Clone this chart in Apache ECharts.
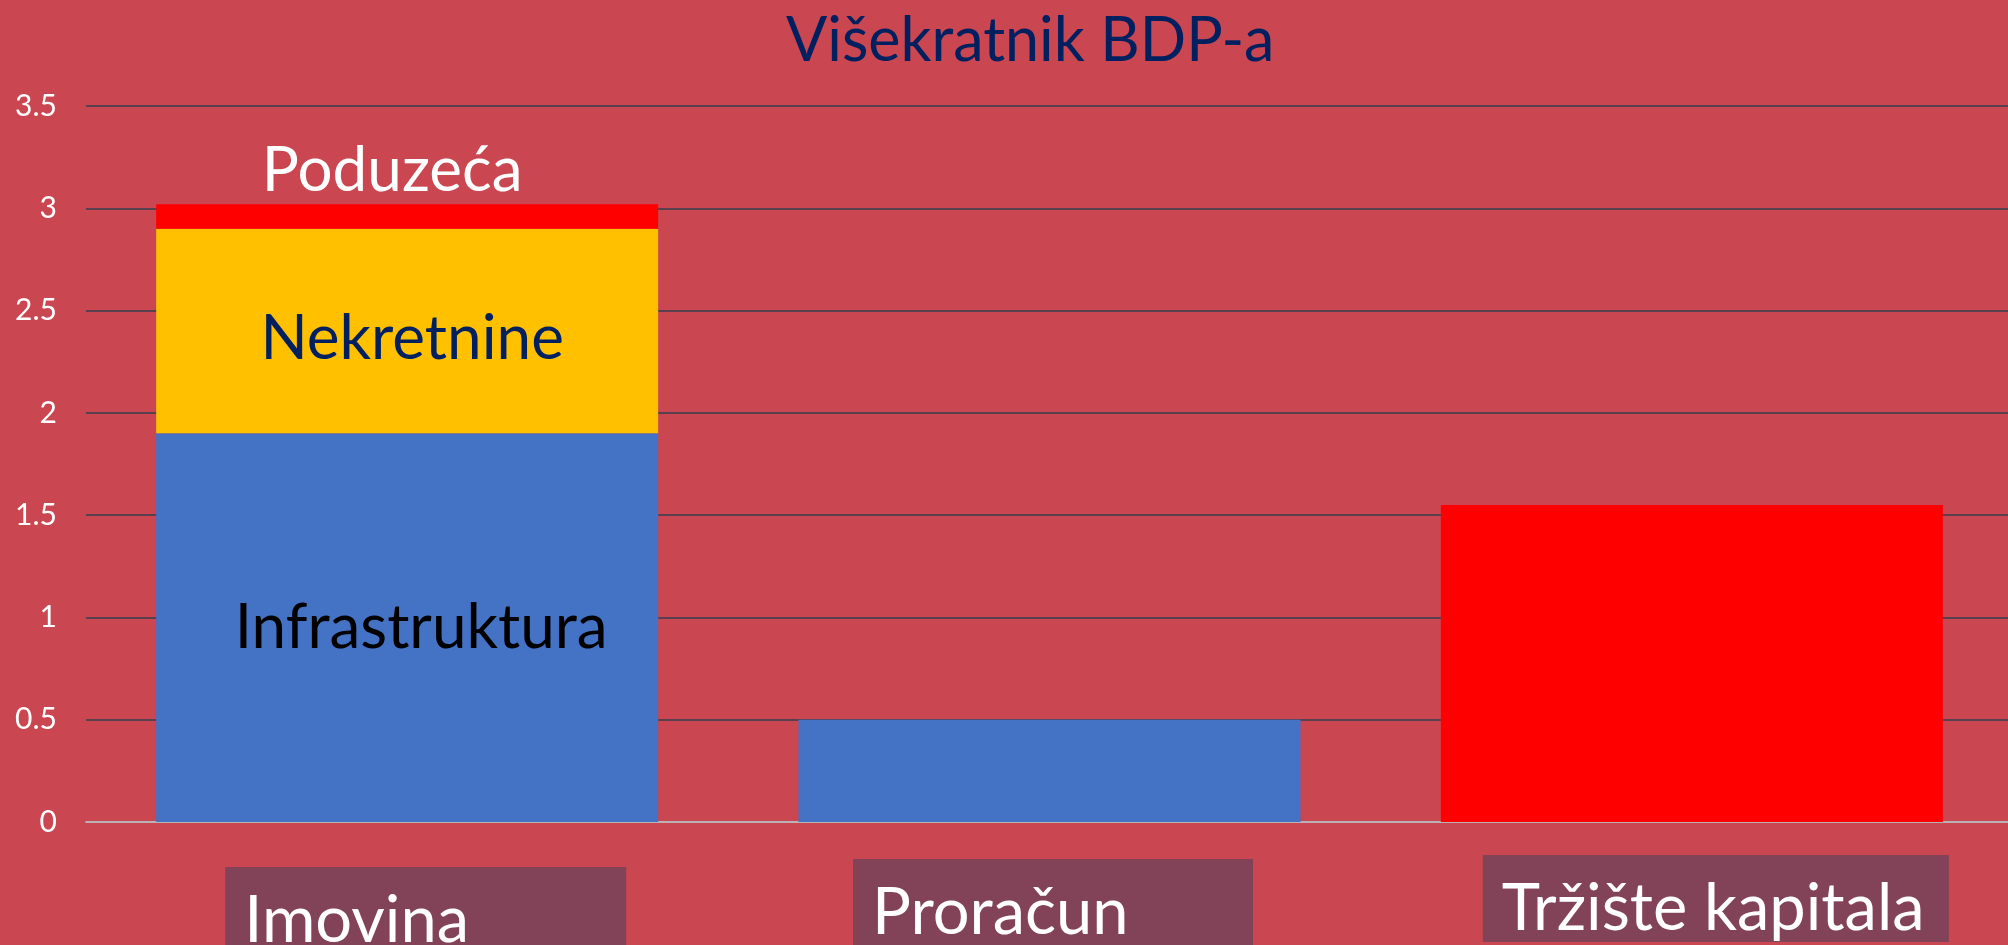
<!DOCTYPE html>
<html>
<head>
<meta charset="utf-8">
<title>Višekratnik BDP-a</title>
<script src="https://cdn.jsdelivr.net/npm/echarts@6/dist/echarts.min.js"></script>
<style>
    html, body { margin: 0; padding: 0; background: #CA4650; }
    #main { width: 2008px; height: 945px; }
</style>
</head>
<body>
<div id="main"></div>
<script>
// podaci
var categories = ['Imovina', 'Proračun', 'Tržište kapitala'];
var infrastruktura = [1.9, 0.5, null];
var nekretnine = [1.0, null, null];
var poduzeca = [0.12, null, 1.55];
var segmentNames = ['Infrastruktura', 'Nekretnine', 'Poduzeća'];

var font = 'Lato';
var barFont = 62;
var boxFont = 65;

// kutije ispod osi (pomak, spuštanje, širina)
var boxes = [
    {gap: 37, drop: 12, width: 401},
    {gap: 7, drop: 4, width: 400},
    {gap: 48, drop: 0, width: 466}
];

// širina teksta da bi tekst bio lijevo poravnat u kutiji
var ctx = document.createElement('canvas').getContext('2d');
ctx.font = boxFont + 'px ' + font;

var rich = {};
boxes.forEach(function (b, i) {
    var tw = ctx.measureText(categories[i]).width;
    var padL = 19;
    var padR = Math.max(0, b.width - padL - tw);
    rich['s' + i] = {width: b.gap, height: 84 + b.drop};
    rich['b' + i] = {
        color: '#ffffff',
        fontFamily: font,
        fontSize: boxFont,
        backgroundColor: '#824257',
        lineHeight: 62,
        padding: [22, padR, 0, padL],
        verticalAlign: 'bottom'
    };
});

// samo prvi stupac ima natpis
function withLabel(values, text, pos, color, dist, off) {
    return values.map(function (v, i) {
        if (i !== 0) return v;
        return {
            value: v,
            label: {
                show: true,
                formatter: text,
                position: pos,
                distance: dist,
                offset: off,
                color: color,
                fontFamily: font,
                fontSize: barFont
            }
        };
    });
}

var myChart = echarts.init(document.getElementById('main'));

var option = {
    backgroundColor: '#CA4650',
    animation: false,
    title: {
        text: 'Višekratnik BDP-a',
        left: 781,
        top: 6,
        textStyle: {
            color: '#002060',
            fontFamily: font,
            fontSize: 61,
            fontWeight: 'normal'
        }
    },
    grid: {
        left: 86,
        top: 106,
        width: 1927,
        bottom: 123,
        outerBoundsMode: 'none'
    },
    xAxis: {
        type: 'category',
        data: categories,
        axisTick: {show: false},
        axisLine: {lineStyle: {color: '#D9D9D9', width: 1.5}},
        axisLabel: {
            interval: 0,
            margin: 36,
            formatter: function (v, i) {
                return '{s' + i + '|}{b' + i + '|' + v + '}';
            },
            rich: rich
        }
    },
    yAxis: {
        type: 'value',
        min: 0,
        max: 3.5,
        interval: 0.5,
        axisLine: {show: false},
        axisTick: {show: false},
        axisLabel: {
            color: '#ffffff',
            fontFamily: font,
            fontSize: 30,
            margin: 29
        },
        splitLine: {lineStyle: {color: '#333F4F', width: 1.5}}
    },
    series: [
        {
            name: segmentNames[0],
            type: 'bar',
            stack: 'total',
            barWidth: 502,
            itemStyle: {color: '#4472C4'},
            data: withLabel(infrastruktura, segmentNames[0], 'inside', '#000000', 5, [14, 0])
        },
        {
            name: segmentNames[1],
            type: 'bar',
            stack: 'total',
            barWidth: 502,
            itemStyle: {color: '#FFC000'},
            data: withLabel(nekretnine, segmentNames[1], 'inside', '#002060', 5, [5, 8])
        },
        {
            name: segmentNames[2],
            type: 'bar',
            stack: 'total',
            barWidth: 502,
            itemStyle: {color: '#FF0000'},
            data: withLabel(poduzeca, segmentNames[2], 'top', '#ffffff', 2, [-15, 0])
        }
    ]
};
myChart.setOption(option);
window.onresize = myChart.resize;
</script>
</body>
</html>
